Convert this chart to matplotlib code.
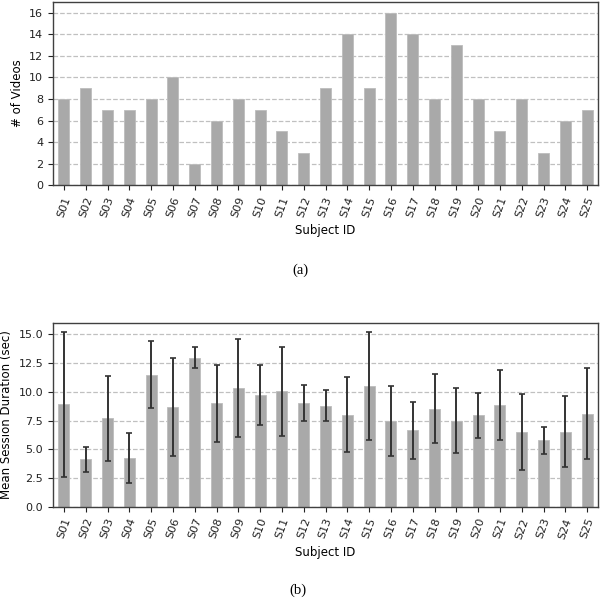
import matplotlib
matplotlib.use("Agg")
import matplotlib.pyplot as plt
import numpy as np

subjects = ["S%02d" % i for i in range(1, 26)]
num_videos = [8, 9, 7, 7, 8, 10, 2, 6, 8, 7, 5, 3, 9, 14, 9, 16, 14, 8, 13, 8, 5, 8, 3, 6, 7]
mean_duration = [8.9, 4.15, 7.7, 4.25, 11.5, 8.7, 12.95, 9.0, 10.35, 9.75, 10.05, 9.0,
                 8.8, 8.0, 10.5, 7.5, 6.65, 8.55, 7.5, 7.95, 8.85, 6.55, 5.8, 6.55, 8.1]
std_duration = [6.3, 1.07, 3.7, 2.17, 2.9, 4.26, 0.9, 3.35, 4.23, 2.6, 3.86, 1.55,
                1.36, 3.25, 4.7, 3.03, 2.5, 3.03, 2.8, 1.97, 3.06, 3.3, 1.17, 3.09, 3.95]

plt.rcParams['font.family'] = ['DejaVu Sans']
plt.rcParams['font.size'] = 8

fig = plt.figure(figsize=(6.0, 6.03), dpi=100)
W, H = 600, 603
ax1 = fig.add_axes([53 / W, 1 - 185.3 / H, 545 / W, 183.5 / H])
ax2 = fig.add_axes([53 / W, 1 - 507 / H, 545 / W, 184.3 / H])

x = np.arange(len(subjects))
bar_color = '#a9a9a9'
spine_color = '#404040'

for ax in (ax1, ax2):
    ax.set_axisbelow(True)
    ax.yaxis.grid(True, linestyle='--', color='#c0c0c0', linewidth=0.9)
    for s in ax.spines.values():
        s.set_color(spine_color)
        s.set_linewidth(1.0)
    ax.set_xlim(-0.5, len(subjects) - 0.5)
    ax.set_xticks(x)
    ax.set_xticklabels(subjects, rotation=70, ha='center')
    ax.tick_params(colors='#222222', length=3.5, width=0.8)
    ax.set_xlabel('Subject ID', fontsize=8.5)

ax1.bar(x, num_videos, width=0.5, color=bar_color, edgecolor='#bdbdbd', linewidth=0.6)
ax1.set_ylim(0, 17)
ax1.set_yticks(range(0, 17, 2))
ax1.set_ylabel('# of Videos', fontsize=8.5)

ax2.bar(x, mean_duration, width=0.5, color=bar_color, edgecolor='#bdbdbd', linewidth=0.6,
        yerr=std_duration, error_kw=dict(ecolor='#333333', elinewidth=1.4, capsize=2.0, capthick=1.2))
ax2.set_ylim(0, 16)
ax2.set_yticks(np.arange(0, 15.1, 2.5))
ax2.set_yticklabels(['%.1f' % v for v in np.arange(0, 15.1, 2.5)])
ax2.set_ylabel('Mean Session Duration (sec)', fontsize=8.5)

fig.text(300 / W, 1 - 270 / H, '(a)', ha='center', va='center', fontsize=10.5, family='Liberation Serif')
fig.text(298 / W, 1 - 590 / H, '(b)', ha='center', va='center', fontsize=10.5, family='Liberation Serif')

fig.savefig('out.png', dpi=100)
